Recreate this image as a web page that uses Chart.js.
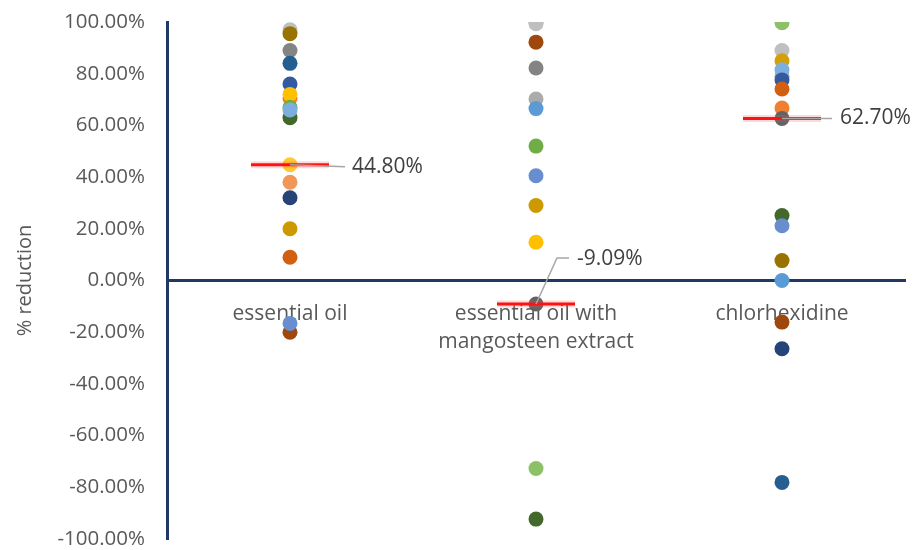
<!DOCTYPE html>
<html>
<head>
<meta charset="utf-8">
<script src="https://cdn.jsdelivr.net/npm/chart.js@4.4.1/dist/chart.umd.min.js"></script>
<style>
  html, body { margin: 0; padding: 0; background: #ffffff; }
  #wrap { width: 915px; height: 550px; position: relative; }
</style>
</head>
<body>
<div id="wrap"><canvas id="chart"></canvas></div>
<script>
// Groups along the x axis and how their names wrap under the zero line
const categories = ['essential oil', 'essential oil with mangosteen extract', 'chlorhexidine'];
const categoryLines = [['essential oil'], ['essential oil with', 'mangosteen extract'], ['chlorhexidine']];

// % reduction per subject, one array per group (listed in drawing order)
const essentialOil = [97.0, 95.5, 89.0, 84.0, 76.0, 70.5, 72.0, 63.0, 67.0, 66.0, 44.8, 38.0, 32.0, 20.0, 9.0, -20.0, -16.6];
const essentialOilColors = ['#BFBFBF', '#997300', '#848484', '#255E91', '#335AA1', '#ED7D31', '#FFC000', '#43682B', '#70AD47', '#7CAFDD',
  '#FFC933', '#F1975A', '#264478', '#CC9A00', '#D26012', '#9E480E', '#698ED0'];

const mangosteen = [100.0, 99.3, 92.2, 82.2, 70.2, 66.5, 52.0, 40.5, 29.0, 14.8, -9.09, -72.7, -92.3];
const mangosteenColors = ['#ED7D31', '#BFBFBF', '#9E480E', '#848484', '#ABABAB', '#5B9BD5', '#70AD47', '#698ED0', '#CC9A00', '#FFC000',
  '#636363', '#8CC168', '#43682B'];

const chlorhexidine = [99.7, 89.0, 85.0, 79.0, 81.5, 77.6, 74.1, 66.7, 62.7, 25.1, 21.2, 7.7, 0.0, -16.1, -26.4, -78.1];
const chlorhexidineColors = ['#8CC168', '#BFBFBF', '#D4A00A', '#A5A5A5', '#7CAFDD', '#335AA1', '#D26012', '#F08030', '#636363',
  '#43682B', '#698ED0', '#997300', '#5B9BD5', '#9E480E', '#264478', '#255E91'];

// Highlighted value per group (red bar + callout)
const markerValues = [44.8, -9.09, 62.7];

// Y axis tick values
const yTickValues = [-100, -80, -60, -40, -20, 0, 20, 40, 60, 80, 100];

// Callout leader paths, pixel offsets from the highlighted point
const calloutPaths = [
  { line: [[0, 0], [55, 2]], text: [62, 2] },
  { line: [[0, 0], [21, -46], [33, -46]], text: [41, -45] },
  { line: [[0, 0], [50, 0]], text: [58, 0] }
];

const groups = [
  { values: essentialOil, colors: essentialOilColors },
  { values: mangosteen, colors: mangosteenColors },
  { values: chlorhexidine, colors: chlorhexidineColors }
];

const fmtPct = v => v.toFixed(2) + '%';
const FONT = '"Open Sans", "Noto Sans", sans-serif';

const datasets = [];
// Soft halo and solid red bar at each highlighted value
datasets.push({
  label: 'halo',
  data: markerValues.map((v, i) => ({ x: categories[i], y: v })),
  showLine: false,
  pointStyle: 'line',
  pointRadius: 39,
  pointBorderWidth: 7,
  pointBorderColor: 'rgba(255, 80, 80, 0.22)',
  pointBackgroundColor: 'rgba(0,0,0,0)'
});
datasets.push({
  label: 'marker',
  data: markerValues.map((v, i) => ({ x: categories[i], y: v })),
  showLine: false,
  pointStyle: 'line',
  pointRadius: 39,
  pointBorderWidth: 3,
  pointBorderColor: '#FF0000',
  pointBackgroundColor: 'rgba(0,0,0,0)'
});
groups.forEach((g, i) => {
  datasets.push({
    label: categories[i],
    data: g.values.map(v => ({ x: categories[i], y: v })),
    showLine: false,
    pointStyle: 'circle',
    pointRadius: 7.5,
    pointBorderWidth: 0,
    pointBackgroundColor: g.colors,
    pointBorderColor: g.colors
  });
});

// Leader lines and value labels for the highlighted points
const calloutPlugin = {
  id: 'callouts',
  afterDatasetsDraw(chart) {
    const { ctx } = chart;
    const xs = chart.scales.x, ys = chart.scales.y;
    ctx.save();
    markerValues.forEach((v, i) => {
      const px = xs.getPixelForValue(i);
      const py = ys.getPixelForValue(v);
      const p = calloutPaths[i];
      ctx.beginPath();
      p.line.forEach(([dx, dy], k) => {
        if (k === 0) ctx.moveTo(px + dx, py + dy);
        else ctx.lineTo(px + dx, py + dy);
      });
      ctx.strokeStyle = '#A6A6A6';
      ctx.lineWidth = 1.5;
      ctx.stroke();
      ctx.fillStyle = '#404040';
      ctx.font = '21px ' + FONT;
      ctx.textAlign = 'left';
      ctx.textBaseline = 'middle';
      ctx.fillText(fmtPct(v), px + p.text[0], py + p.text[1]);
    });
    ctx.restore();
  }
};

// Keep axis label overhang from shrinking the plot area
const noPadding = s => { s.paddingLeft = 0; s.paddingRight = 0; s.paddingTop = 0; s.paddingBottom = 0; };

new Chart(document.getElementById('chart'), {
  type: 'line',
  data: { labels: categories, datasets },
  options: {
    responsive: true,
    maintainAspectRatio: false,
    devicePixelRatio: 1,
    animation: false,
    events: [],
    layout: { autoPadding: false, padding: { left: 0, right: 10, top: 22, bottom: 11 } },
    plugins: { legend: { display: false }, tooltip: { enabled: false } },
    scales: {
      x: {
        type: 'category',
        position: { y: 0 },
        offset: true,
        grid: { display: false, drawTicks: false },
        border: { display: true, color: '#1F3864', width: 3 },
        afterFit: s => { noPadding(s); },
        ticks: {
          padding: 19,
          color: '#595959',
          font: { family: FONT, size: 21, lineHeight: 1.35 },
          maxRotation: 0,
          autoSkip: false,
          callback: (val, idx) => categoryLines[idx]
        }
      },
      y: {
        min: -100,
        max: 100,
        grid: { display: false, drawTicks: false },
        border: { display: true, color: '#1F3864', width: 3 },
        afterBuildTicks: s => { s.ticks = yTickValues.map(v => ({ value: v })); },
        afterFit: s => { s.width = 167; noPadding(s); },
        ticks: {
          padding: 22,
          color: '#595959',
          font: { family: FONT, size: 20.5 },
          callback: v => fmtPct(v)
        },
        title: {
          display: true,
          text: '% reduction',
          color: '#595959',
          font: { family: FONT, size: 20 },
          padding: { top: 13, bottom: 0 }
        }
      }
    }
  },
  plugins: [calloutPlugin]
});
</script>
</body>
</html>
